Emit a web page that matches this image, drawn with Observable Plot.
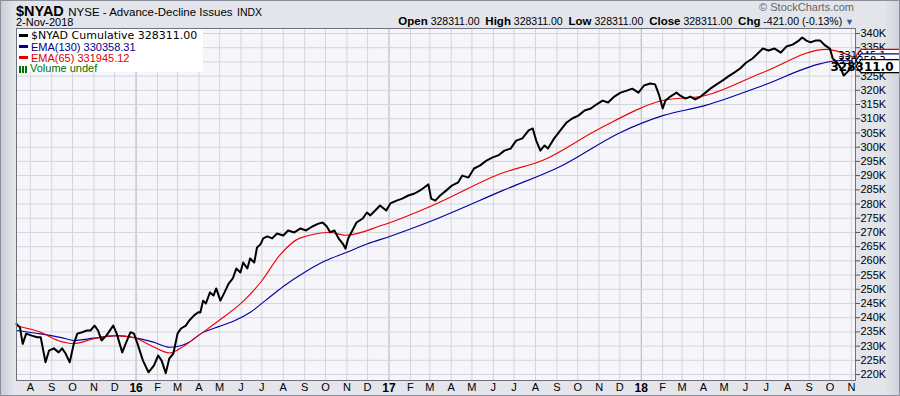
<!DOCTYPE html>
<html><head><meta charset="utf-8">
<script src="https://cdn.jsdelivr.net/npm/d3@7"></script>
<script src="https://cdn.jsdelivr.net/npm/@observablehq/plot@0.6"></script>
<style>
html,body{margin:0;padding:0;background:#fff;}
#wrap{position:relative;width:900px;height:396px;overflow:hidden;
  background:linear-gradient(90deg,#c9ccd6 0px,#e3e5eb 14px,#e3e5eb 884px,#cfd2db 900px);
  font-family:"Liberation Sans",Arial,sans-serif;color:#000;}
#wrap:after{content:"";position:absolute;left:0;top:0;right:0;bottom:0;border:1px solid #8c909c;pointer-events:none;}
#chart{position:absolute;left:0;top:0;}
.t{position:absolute;white-space:nowrap;}
#legend{position:absolute;left:17px;top:29px;width:186px;height:43px;background:#fff;}
#legend div{position:absolute;left:2px;white-space:nowrap;}
.sw{display:inline-block;width:9px;height:3px;vertical-align:middle;margin-right:3px;position:relative;top:-1px;}
</style></head><body>
<div id="wrap">
  <div id="chart"></div>
  <div class="t" style="left:16px;top:2px;"><span style="font-weight:bold;font-size:14.5px;">$NYAD</span> <span style="font-size:11.5px;">NYSE - Advance-Decline Issues</span> <span style="font-size:10.5px;">INDX</span></div>
  <div class="t" style="left:16px;top:16px;font-size:11px;">2-Nov-2018</div>
  <div class="t" style="right:46px;top:1px;font-size:11px;color:#666;">&#169; StockCharts.com</div>
  <div class="t" id="ohlc" style="right:46px;top:15px;font-size:10.5px;"></div>
  <div id="legend"></div>
</div>
<script>
// ---- Data (values in thousands) ----
const navDates = ["2015-07-12","2015-07-17","2015-07-21","2015-07-26","2015-08-03","2015-08-11","2015-08-16","2015-08-23","2015-08-28","2015-09-04","2015-09-11","2015-09-16","2015-09-21","2015-09-27","2015-10-03","2015-10-08","2015-10-15","2015-10-22","2015-10-27","2015-11-02","2015-11-07","2015-11-12","2015-11-19","2015-11-29","2015-12-04","2015-12-12","2015-12-17","2015-12-24","2015-12-29","2016-01-03","2016-01-11","2016-01-19","2016-01-27","2016-02-02","2016-02-07","2016-02-13","2016-02-18","2016-02-24","2016-03-01","2016-03-06","2016-03-13","2016-03-18","2016-03-25","2016-03-31",
"2016-04-03","2016-04-07","2016-04-11","2016-04-17","2016-04-22","2016-04-26","2016-05-02","2016-05-08","2016-05-14","2016-05-20","2016-05-25","2016-05-31","2016-06-04","2016-06-10","2016-06-14","2016-06-20","2016-06-24","2016-06-29","2016-07-03","2016-07-09","2016-07-16","2016-07-23","2016-08-01","2016-08-08","2016-08-17","2016-08-26","2016-09-03","2016-09-12","2016-09-21","2016-09-27","2016-10-03","2016-10-08","2016-10-14","2016-10-20","2016-10-26","2016-10-30","2016-11-03","2016-11-09","2016-11-15","2016-11-24","2016-11-30","2016-12-05","2016-12-12","2016-12-19","2016-12-28",
"2017-01-03","2017-01-12","2017-01-20","2017-01-29","2017-02-07","2017-02-15","2017-02-21","2017-02-27","2017-03-03","2017-03-09","2017-03-16","2017-03-25","2017-04-02","2017-04-11","2017-04-17","2017-04-26","2017-05-04","2017-05-13","2017-05-22","2017-05-31","2017-06-08","2017-06-17","2017-06-26","2017-07-04","2017-07-13","2017-07-22","2017-07-28","2017-08-02","2017-08-08","2017-08-14","2017-08-19","2017-08-28","2017-09-06","2017-09-15","2017-09-23","2017-10-02","2017-10-11","2017-10-20","2017-10-28","2017-11-06","2017-11-14","2017-11-23","2017-12-02","2017-12-11","2017-12-19","2017-12-28",
"2018-01-05","2018-01-14","2018-01-21","2018-01-27","2018-02-01","2018-02-05","2018-02-12","2018-02-21","2018-02-26","2018-03-06","2018-03-13","2018-03-20","2018-03-28","2018-04-04","2018-04-11","2018-04-20","2018-04-29","2018-05-07","2018-05-16","2018-05-24","2018-06-02","2018-06-11","2018-06-20","2018-06-26","2018-07-04","2018-07-13","2018-07-22","2018-07-30","2018-08-08","2018-08-17","2018-08-22","2018-08-28","2018-09-03","2018-09-10","2018-09-17","2018-09-24","2018-10-01","2018-10-05","2018-10-11","2018-10-16","2018-10-21","2018-10-26","2018-11-02"];
const navValues = [237.8,236.6,230.8,234.4,233.7,233.1,233.1,224.3,228.4,229.2,227.8,229.2,227.4,224.3,230.9,234.4,234.9,235.5,235.5,237.2,235.5,232.0,233.7,237.2,234.4,227.8,230.9,234.9,234.4,230.9,224.9,220.8,223.2,226.7,224.9,220.5,225.6,227.4,234.4,236.2,237.2,239.0,240.8,241.9,
241.8,246.0,245.0,248.9,247.8,250.3,246.0,248.9,252.0,253.8,257.3,255.9,259.4,257.3,260.8,259.4,264.7,265.8,267.9,268.6,267.9,269.6,268.9,270.7,270.0,271.4,270.7,272.1,273.1,273.5,272.1,270.0,270.7,267.9,266.1,264.3,267.9,270.7,273.5,274.9,277.0,276.0,277.7,279.5,277.7,
280.2,281.2,281.9,283.0,283.7,284.8,285.8,286.9,281.9,281.2,283.0,284.8,286.5,287.6,290.0,289.3,292.5,293.6,295.3,296.4,297.1,298.8,299.5,302.3,303.1,305.9,306.6,302.3,298.8,300.6,299.5,303.1,305.9,308.7,310.1,311.1,312.9,313.6,315.0,316.4,315.7,317.8,319.2,319.9,320.6,319.2,
321.7,322.4,322.1,318.2,313.6,316.4,317.8,319.2,318.2,317.1,317.8,316.8,317.8,319.2,320.6,322.1,323.5,324.9,326.3,327.7,329.8,331.2,333.3,334.7,334.0,334.7,333.3,335.4,336.1,337.5,338.6,337.5,336.9,337.5,337.5,335.8,334.7,331.2,329.9,328.1,325.2,326.4,328.311];

const ema65Dates = ["2015-07-12","2015-08-01","2015-08-16","2015-09-10","2015-10-03","2015-11-01","2015-12-01","2015-12-29","2016-01-20","2016-02-19","2016-03-10","2016-04-04","2016-04-30","2016-06-05","2016-07-01","2016-07-27","2016-08-25","2016-10-08","2016-10-30","2016-12-22","2017-03-05","2017-06-15","2017-08-11","2017-11-02","2018-02-01","2018-04-04","2018-06-26","2018-09-26","2018-11-02"];
const ema65Values = [237.2,236.0,234.9,232.0,230.9,232.6,233.7,233.0,230.5,227.6,230.0,234.4,239.0,246.0,253.0,262.0,268.0,270.0,269.0,272.5,279.5,291.0,295.3,306.6,316.4,318.2,326.3,334.4,331.945];

const ema130Dates = ["2015-07-12","2015-08-16","2015-09-15","2015-10-03","2015-11-01","2015-12-04","2015-12-29","2016-01-25","2016-02-19","2016-03-15","2016-04-04","2016-05-01","2016-05-23","2016-06-15","2016-07-06","2016-08-01","2016-09-01","2016-10-01","2016-11-01","2016-12-01","2017-01-01","2017-03-05","2017-06-15","2017-09-08","2017-12-02","2018-02-01","2018-04-04","2018-06-26","2018-09-18","2018-10-15","2018-11-02"];
const ema130Values = [235.5,234.3,233.0,232.0,232.8,233.7,233.0,231.5,229.6,231.0,234.4,237.0,239.0,242.0,246.0,251.0,256.0,260.0,263.0,266.0,268.5,274.2,284.8,293.5,305.2,311.1,314.7,321.7,329.4,330.5,330.358];

const yTickValues = [220,225,230,235,240,245,250,255,260,265,270,275,280,285,290,295,300,305,310,315,320,325,330,335,340];
const monthLetters = ["J","F","M","A","M","J","J","A","S","O","N","D"];
const yearLabels = {"2016":"16","2017":"17","2018":"18"};
const monthStarts = ["2015-08-01","2015-09-01","2015-10-01","2015-11-01","2015-12-01","2016-01-01","2016-02-01","2016-03-01","2016-04-01","2016-05-01","2016-06-01","2016-07-01","2016-08-01","2016-09-01","2016-10-01","2016-11-01","2016-12-01","2017-01-01","2017-02-01","2017-03-01","2017-04-01","2017-05-01","2017-06-01","2017-07-01","2017-08-01","2017-09-01","2017-10-01","2017-11-01","2017-12-01","2018-01-01","2018-02-01","2018-03-01","2018-04-01","2018-05-01","2018-06-01","2018-07-01","2018-08-01","2018-09-01","2018-10-01","2018-11-01"];
const legendItems = [
  {label:"$NYAD Cumulative 328311.00", color:"#000000"},
  {label:"EMA(130) 330358.31", color:"#00008b"},
  {label:"EMA(65) 331945.12", color:"#e00000"},
  {label:"Volume undef", color:"#007000"}
];
const ohlc = [["Open","328311.00"],["High","328311.00"],["Low","328311.00"],["Close","328311.00"],["Chg","-421.00 (-0.13%)"]];
const lastValues = {nyad:328.311, ema130:330.358, ema65:331.945};
const tagTexts = {nyad:"328311.0", ema130:"330358.3", ema65:"331945.1"};

// ---- Build tables ----
const parse = d3.utcParse("%Y-%m-%d");
const nav = navDates.map((d,i)=>({date:parse(d), value:navValues[i]}));
const e65 = ema65Dates.map((d,i)=>({date:parse(d), value:ema65Values[i]}));
const e130 = ema130Dates.map((d,i)=>({date:parse(d), value:ema130Values[i]}));
const months = monthStarts.map(parse);
const janMonths = months.filter(d=>d.getUTCMonth()===0);
const otherMonths = months.filter(d=>d.getUTCMonth()!==0);

const plot = Plot.plot({
  width:900, height:396,
  marginLeft:16, marginRight:45, marginTop:28, marginBottom:16,
  style:{background:"transparent", fontFamily:"'Liberation Sans', Arial, sans-serif", fontSize:"11px", color:"#000", overflow:"visible"},
  x:{type:"utc", domain:[parse("2015-07-12"), parse("2018-11-07")], label:null},
  y:{domain:[217.9, 341.76], label:null},
  marks:[
    Plot.frame({fill:"#f6f6fa", stroke:null}),
    Plot.gridX(otherMonths, {stroke:"#d3d3dc", strokeOpacity:1}),
    Plot.gridX(janMonths, {stroke:"#aeb0bc", strokeOpacity:1}),
    Plot.gridY(yTickValues, {stroke:"#d3d3dc", strokeOpacity:1}),
    Plot.line(e130, {x:"date", y:"value", stroke:"#0000a0", strokeWidth:1.1, curve:"monotone-x"}),
    Plot.line(e65, {x:"date", y:"value", stroke:"#ee0000", strokeWidth:1.1, curve:"monotone-x"}),
    Plot.line(nav, {x:"date", y:"value", stroke:"#000", strokeWidth:2, strokeLinejoin:"round"}),
    Plot.frame({stroke:"#6e7280", strokeWidth:1}),
    Plot.axisY(yTickValues, {anchor:"right", label:null, tickSize:4, tickPadding:1, tickFormat:d=>d+"K", stroke:"#555"}),
    Plot.axisX(otherMonths, {anchor:"bottom", label:null, tickSize:0, tickPadding:3, tickFormat:d=>monthLetters[d.getUTCMonth()]}),
    Plot.axisX(janMonths, {anchor:"bottom", label:null, tickSize:0, tickPadding:3, fontWeight:"bold", fontSize:12, tickFormat:d=>yearLabels[d.getUTCFullYear()]})
  ]
});
document.getElementById("chart").appendChild(plot);

// ---- last-value tags on the right axis ----
const ys = plot.scale("y"), xs = plot.scale("x");
const xr = xs.range[1];
const svg = d3.select(plot);
function tag(v, color, text, bold){
  const yy = ys.apply(v);
  const g = svg.append("g");
  g.append("path").attr("d",`M${xr+1},${yy} L${xr+6},${yy-6.5} H${xr+60} V${yy+6.5} H${xr+6} Z`)
    .attr("fill","#fff").attr("stroke",color).attr("stroke-width",1.2);
  g.append("text").attr("x",xr+7).attr("y",yy).attr("dy","0.36em")
    .attr("font-size",bold?"12px":"10px").attr("font-weight",bold?"bold":"normal")
    .attr("font-family","'DejaVu Sans', Verdana, sans-serif").attr("fill","#000").text(text);
}
tag(lastValues.ema65, "#e00000", tagTexts.ema65, false);
tag(lastValues.ema130, "#00008b", tagTexts.ema130, false);
tag(lastValues.nyad, "#000", tagTexts.nyad, true);

// ---- legend ----
const lg = document.getElementById("legend");
legendItems.forEach((it,i)=>{
  const div = document.createElement("div");
  div.style.top = (i===0? 0 : 1 + i*10.8) + "px";
  div.style.color = it.color;
  div.style.fontFamily = i===0 ? "'DejaVu Sans', Verdana, sans-serif" : "'Liberation Sans', Arial, sans-serif";
  div.style.fontSize = "11px";
  const sw = document.createElement("span");
  sw.className = "sw";
  if (i===3){ sw.style.height="7px"; sw.style.width="8px"; sw.style.background="repeating-linear-gradient(90deg,#007000 0 2px,transparent 2px 3px)"; sw.style.top="0px"; }
  else sw.style.background = it.color;
  div.appendChild(sw);
  div.appendChild(document.createTextNode(it.label));
  lg.appendChild(div);
});
// ---- OHLC header ----
document.getElementById("ohlc").innerHTML = ohlc.map(([k,v])=>`<b style="font-size:11.5px">${k}</b> ${v}`).join("&nbsp;&nbsp;") + ` <span style="color:#3a5a9a;font-size:9px">&#9660;</span>`;
</script>
</body></html>
